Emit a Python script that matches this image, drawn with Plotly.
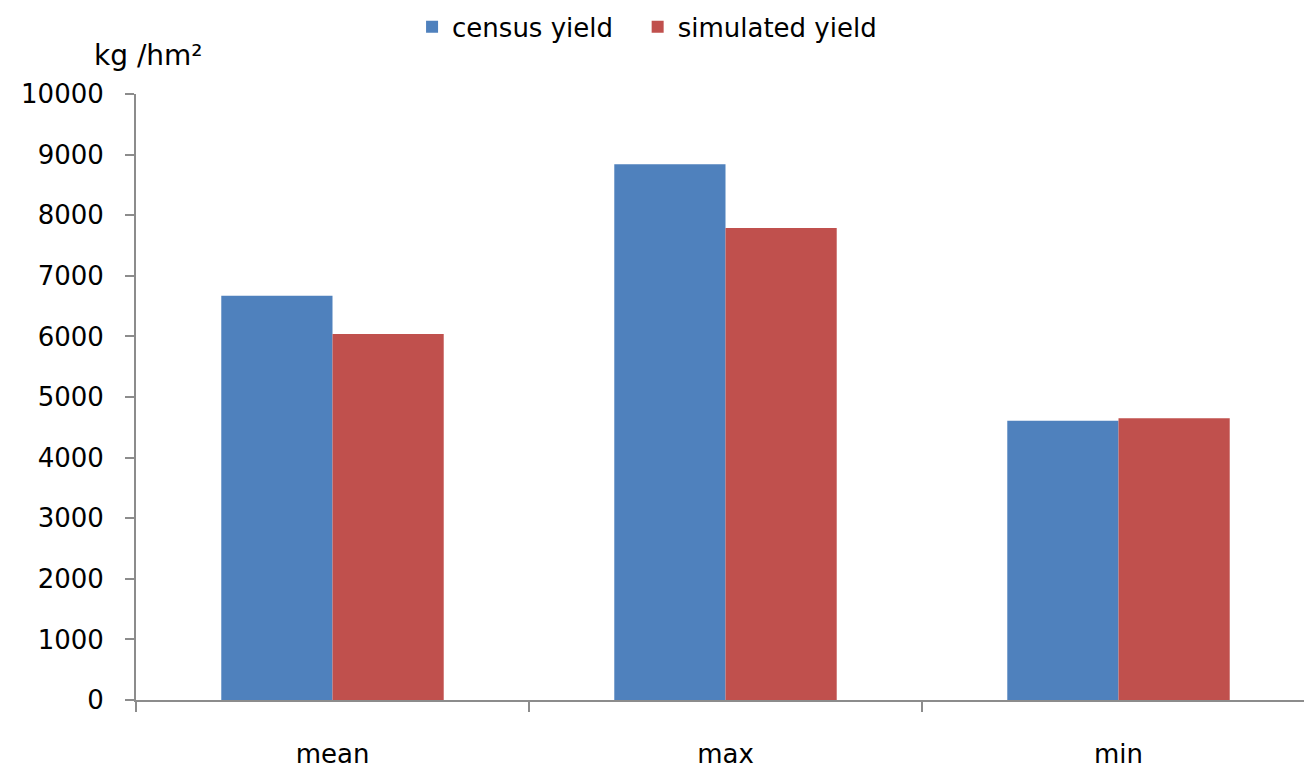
import plotly.graph_objects as go

# Yield statistics (kg/hm²)
categories = ["mean", "max", "min"]
census_yield = [6670, 8840, 4610]
simulated_yield = [6040, 7790, 4650]
y_tick_values = [0, 1000, 2000, 3000, 4000, 5000, 6000, 7000, 8000, 9000, 10000]
y_tick_labels = ["0", "1000", "2000", "3000", "4000", "5000", "6000", "7000", "8000", "9000", "10000"]

BLUE = "#4F81BD"
RED = "#C0504D"
AXIS = "#8C8C8C"
FONT = "DejaVu Sans"
SIZE = 26

fig = go.Figure()
fig.add_trace(go.Bar(name="census yield", x=categories, y=census_yield, showlegend=True,
                     marker=dict(color=BLUE, line=dict(width=0)), legend="legend"))
fig.add_trace(go.Bar(name="simulated yield", x=categories, y=simulated_yield, showlegend=True,
                     marker=dict(color=RED, line=dict(width=0)), legend="legend2"))

legend_common = dict(orientation="h", xref="container", yref="container",
                     xanchor="left", y=0.965, yanchor="middle",
                     font=dict(size=SIZE), itemwidth=30, visible=True)

fig.update_layout(
    width=1304, height=768,
    showlegend=True,
    margin=dict(l=136, r=0, t=94, b=68, autoexpand=False),
    paper_bgcolor="white", plot_bgcolor="white",
    barmode="group", bargap=0.434, bargroupgap=0,
    font=dict(family=FONT, size=SIZE, color="#000000"),
    legend=dict(x=0.316, **legend_common),
    legend2=dict(x=0.489, **legend_common),
    xaxis=dict(type="category", range=[-0.5, 2.472], tickson="boundaries",
               ticks="outside", ticklen=10, tickwidth=2, tickcolor=AXIS,
               showline=True, linecolor=AXIS, linewidth=2, showgrid=False,
               ticklabelstandoff=30, tickfont=dict(size=SIZE)),
    yaxis=dict(range=[0, 10000], tickvals=y_tick_values, ticktext=y_tick_labels,
               ticks="outside", ticklen=9, tickwidth=2, tickcolor=AXIS,
               showline=True, linecolor=AXIS, linewidth=2,
               showgrid=False, zeroline=False, ticklabelstandoff=16,
               tickfont=dict(size=SIZE)),
    annotations=[dict(text="kg /hm²", xref="paper", yref="paper",
                      x=-0.0377, y=1.063, xanchor="left", yanchor="middle",
                      showarrow=False, font=dict(size=28))],
)

fig.write_html("out.html")
